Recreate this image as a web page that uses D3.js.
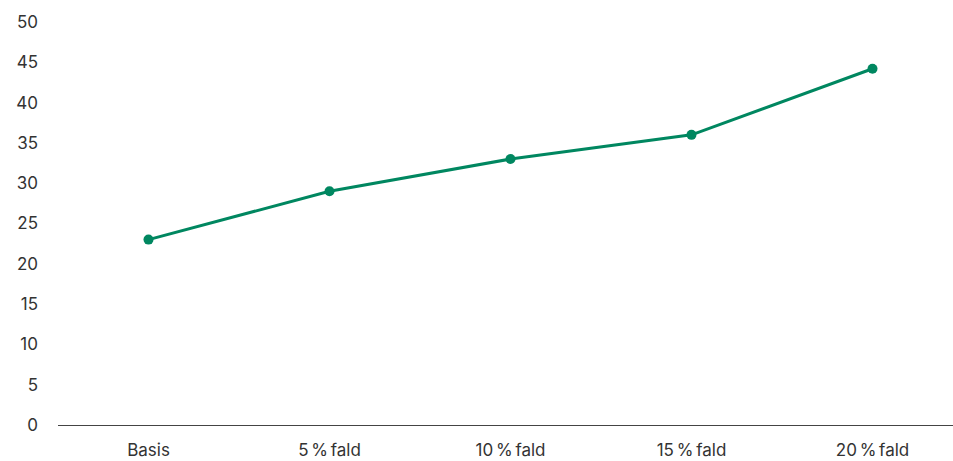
<!DOCTYPE html>
<html>
<head>
<meta charset="utf-8">
<script src="https://cdn.jsdelivr.net/npm/d3@7"></script>
<style>
  body { margin: 0; background: #fff; }
  text { font-family: Inter, "Noto Sans", sans-serif; fill: #333; }
</style>
</head>
<body>
<svg width="953" height="461"></svg>
<script>
// scenario labels along the bottom
const categories = ["Basis", "5 % fald", "10 % fald", "15 % fald", "20 % fald"];
// values
const values = [23, 29, 33, 36, 44.2];
const yTicks = [0, 5, 10, 15, 20, 25, 30, 35, 40, 45, 50];

const svg = d3.select('svg');
const margin = {left: 58, right: -10, top: 22, bottom: 36};
const width = 953, height = 461;

const x = d3.scalePoint()
  .domain(categories)
  .range([margin.left, width - margin.right])
  .padding(0.5);

const y = d3.scaleLinear()
  .domain([0, 50])
  .range([height - margin.bottom, margin.top]);

// y labels, no axis line
svg.append('g')
  .selectAll('text')
  .data(yTicks)
  .enter().append('text')
  .attr('x', 38)
  .attr('y', d => y(d))
  .attr('dy', '0.35em')
  .attr('text-anchor', 'end')
  .style('font-size', '17px')
  .text(d => d);

// baseline
svg.append('line')
  .attr('x1', margin.left).attr('x2', width)
  .attr('y1', y(0) + 0.5).attr('y2', y(0) + 0.5)
  .attr('stroke', '#444').attr('stroke-width', 1);

// x labels
svg.append('g')
  .selectAll('text')
  .data(categories)
  .enter().append('text')
  .attr('x', d => x(d))
  .attr('y', y(0) + 25)
  .attr('dy', '0.35em')
  .attr('text-anchor', 'middle')
  .style('font-size', '17px')
  .style('word-spacing', '-2px')
  .text(d => d);

const line = d3.line()
  .x((d, i) => x(categories[i]))
  .y(d => y(d));

svg.append('path')
  .datum(values)
  .attr('d', line)
  .attr('fill', 'none')
  .attr('stroke', '#008760')
  .attr('stroke-width', 3);

svg.selectAll('circle.pt')
  .data(values)
  .enter().append('circle')
  .classed('pt', true)
  .attr('cx', (d, i) => x(categories[i]))
  .attr('cy', d => y(d))
  .attr('r', 5)
  .attr('fill', '#008760');
</script>
</body>
</html>
